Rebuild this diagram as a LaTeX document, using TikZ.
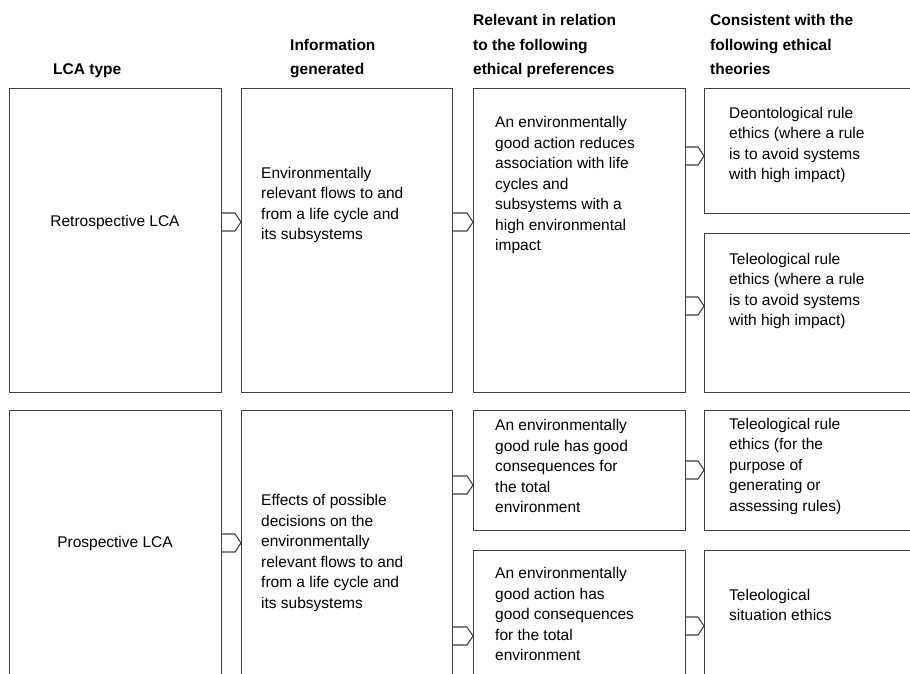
\documentclass[tikz,border=0pt]{standalone}
\usepackage{fontspec}
\setmainfont{Liberation Sans}
\begin{document}
\begin{tikzpicture}[x=1pt,y=-1pt,
  box/.style={draw=black!75,line width=1.1pt,inner sep=0pt,anchor=north west},
  conn/.style={draw=black!75,line width=1.1pt,fill=white},
  txt/.style={inner sep=0pt,anchor=west,align=left,font=\fontsize{15.5}{20.5}\selectfont},
  ctxt/.style={inner sep=0pt,anchor=center,align=center,font=\fontsize{15.5}{20.5}\selectfont},
  hdr/.style={inner sep=0pt,anchor=base west,align=left,font=\bfseries\fontsize{15.5}{24.5}\selectfont}]
\useasboundingbox (0,0) rectangle (910,674);
\begin{scope}
\clip (0,0) rectangle (910,674);
% headers
\node[hdr] (h1) at (53,75) {LCA type};
\node[hdr] (h2) at (290,75) {Information\\generated};
\node[hdr] (h3) at (473,75) {Relevant in relation\\to the following\\ethical preferences};
\node[hdr] (h4) at (710,75) {Consistent with the\\following ethical\\theories};
% upper row boxes
\node[box,minimum width=212pt,minimum height=304pt] (r1) at (9,88) {};
\node[box,minimum width=211pt,minimum height=304pt] (i1) at (241,88) {};
\node[box,minimum width=212pt,minimum height=304pt] (p1) at (473,88) {};
\node[box,minimum width=212pt,minimum height=125pt] (t1) at (704,88) {};
\node[box,minimum width=212pt,minimum height=159pt] (t2) at (704,233) {};
% lower row boxes
\node[box,minimum width=212pt,minimum height=282pt] (r2) at (9,410) {};
\node[box,minimum width=211pt,minimum height=282pt] (i2) at (241,410) {};
\node[box,minimum width=212pt,minimum height=120pt] (p2) at (473,410) {};
\node[box,minimum width=212pt,minimum height=140pt] (p3) at (473,550) {};
\node[box,minimum width=212pt,minimum height=120pt] (t3) at (704,410) {};
\node[box,minimum width=212pt,minimum height=140pt] (t4) at (704,550) {};
% texts
\node[ctxt] (tr1) at (115,222) {Retrospective LCA};
\node[txt] (ti1) at (261,205) {Environmentally\\relevant flows to and\\from a life cycle and\\its subsystems};
\node[txt] (tp1) at (495,185) {An environmentally\\good action reduces\\association with life\\cycles and\\subsystems with a\\high environmental\\impact};
\node[txt] (tt1) at (729,145) {Deontological rule\\ethics (where a rule\\is to avoid systems\\with high impact)};
\node[txt] (tt2) at (729,291) {Teleological rule\\ethics (where a rule\\is to avoid systems\\with high impact)};
\node[ctxt] (tr2) at (115,543) {Prospective LCA};
\node[txt] (ti2) at (261,553) {Effects of possible\\decisions on the\\environmentally\\relevant flows to and\\from a life cycle and\\its subsystems};
\node[txt] (tp2) at (495,466) {An environmentally\\good rule has good\\consequences for\\the total\\environment};
\node[txt] (tp3) at (495,614) {An environmentally\\good action has\\good consequences\\for the total\\environment};
\node[txt] (tt3) at (729,466) {Teleological rule\\ethics (for the\\purpose of\\generating or\\assessing rules)};
\node[txt] (tt4) at (729,605) {Teleological\\situation ethics};
% connectors
\newcommand{\lcaconn}[3]{%
  \draw[conn] (#1.east |- 0,#3-9) -- ([xshift=-6pt]#2.west |- 0,#3-9)
    -- (#2.west |- 0,#3) -- ([xshift=-6pt]#2.west |- 0,#3+9) -- (#1.east |- 0,#3+9);}
\lcaconn{r1}{i1}{222}
\lcaconn{i1}{p1}{222}
\lcaconn{p1}{t1}{156}
\lcaconn{p1}{t2}{306}
\lcaconn{r2}{i2}{543}
\lcaconn{i2}{p2}{485}
\lcaconn{i2}{p3}{636}
\lcaconn{p2}{t3}{470}
\lcaconn{p3}{t4}{626}
\end{scope}
\end{tikzpicture}
\end{document}
